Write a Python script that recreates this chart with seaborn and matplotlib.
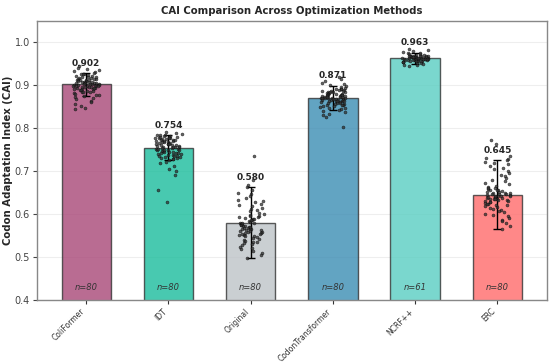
import numpy as np
import pandas as pd
import matplotlib
matplotlib.use("Agg")
import matplotlib.pyplot as plt
import seaborn as sns

methods = ["ColiFormer", "IDT", "Original", "CodonTransformer", "NCRF++", "ERC"]
means = [0.902, 0.754, 0.580, 0.871, 0.963, 0.645]
stds = [0.027, 0.029, 0.083, 0.028, 0.013, 0.080]
counts = [80, 80, 80, 80, 61, 80]
colors = ["#A84777", "#1ABC9C", "#BDC3C7", "#3B8DB3", "#59CEC2", "#FF6B6B"]

coliformer_cai = [
    0.945, 0.940, 0.938, 0.935, 0.932, 0.930, 0.928, 0.927, 0.925, 0.924,
    0.922, 0.921, 0.920, 0.918, 0.917, 0.916, 0.915, 0.914, 0.913, 0.912,
    0.911, 0.910, 0.909, 0.908, 0.907, 0.907, 0.906, 0.905, 0.905, 0.904,
    0.903, 0.903, 0.902, 0.902, 0.901, 0.900, 0.900, 0.899, 0.898, 0.898,
    0.897, 0.896, 0.895, 0.895, 0.894, 0.893, 0.892, 0.891, 0.890, 0.889,
    0.888, 0.887, 0.886, 0.885, 0.884, 0.883, 0.882, 0.880, 0.878, 0.876,
    0.874, 0.872, 0.870, 0.867, 0.864, 0.860, 0.856, 0.852, 0.848, 0.845,
    0.912, 0.908, 0.904, 0.901, 0.899, 0.915, 0.919, 0.926, 0.896, 0.893,
]
idt_cai = [
    0.628, 0.656, 0.690, 0.700, 0.705, 0.712, 0.718, 0.722,
    0.790, 0.788, 0.786, 0.785, 0.784, 0.783, 0.782, 0.781, 0.780, 0.779,
    0.778, 0.777, 0.776, 0.775, 0.774, 0.773, 0.772, 0.771, 0.770, 0.769,
    0.768, 0.767, 0.766, 0.765, 0.764, 0.763, 0.762, 0.761, 0.760, 0.759,
    0.758, 0.757, 0.756, 0.755, 0.754, 0.753, 0.752, 0.751, 0.750, 0.749,
    0.748, 0.747, 0.746, 0.745, 0.744, 0.743, 0.742, 0.741, 0.740, 0.739,
    0.738, 0.737, 0.736, 0.735, 0.734, 0.733, 0.732, 0.731, 0.730, 0.728,
    0.727, 0.726, 0.780, 0.776, 0.772, 0.768, 0.764, 0.760, 0.756, 0.752,
    0.748, 0.744,
]
original_cai = [
    0.735, 0.679, 0.668, 0.662, 0.655, 0.650, 0.646, 0.641, 0.637, 0.633,
    0.630, 0.627, 0.624, 0.621, 0.618, 0.615, 0.612, 0.609, 0.606, 0.603,
    0.601, 0.598, 0.596, 0.594, 0.592, 0.590, 0.588, 0.586, 0.584, 0.582,
    0.580, 0.579, 0.577, 0.576, 0.574, 0.573, 0.571, 0.570, 0.568, 0.567,
    0.566, 0.564, 0.563, 0.562, 0.560, 0.559, 0.558, 0.556, 0.555, 0.554,
    0.552, 0.551, 0.549, 0.548, 0.546, 0.544, 0.542, 0.540, 0.538, 0.536,
    0.534, 0.532, 0.530, 0.527, 0.524, 0.521, 0.518, 0.514, 0.510, 0.505,
    0.498, 0.575, 0.585, 0.595, 0.561, 0.569, 0.553, 0.578, 0.589, 0.565,
]
codontransformer_cai = [
    0.918, 0.914, 0.910, 0.906, 0.903, 0.900, 0.898, 0.896, 0.894, 0.892,
    0.891, 0.890, 0.889, 0.888, 0.887, 0.886, 0.885, 0.884, 0.883, 0.882,
    0.881, 0.880, 0.879, 0.878, 0.877, 0.876, 0.875, 0.875, 0.874, 0.873,
    0.873, 0.872, 0.871, 0.871, 0.870, 0.869, 0.869, 0.868, 0.867, 0.866,
    0.865, 0.865, 0.864, 0.863, 0.862, 0.861, 0.860, 0.859, 0.858, 0.857,
    0.856, 0.855, 0.854, 0.853, 0.852, 0.851, 0.850, 0.848, 0.846, 0.844,
    0.842, 0.840, 0.837, 0.834, 0.830, 0.825, 0.802, 0.876, 0.872, 0.868,
    0.879, 0.866, 0.883, 0.862, 0.874, 0.870, 0.887, 0.858, 0.877, 0.864,
]
ncrf_cai = [
    0.985, 0.982, 0.979, 0.977, 0.975, 0.974, 0.973, 0.972, 0.971, 0.970,
    0.969, 0.968, 0.968, 0.967, 0.967, 0.966, 0.966, 0.965, 0.965, 0.964,
    0.964, 0.963, 0.963, 0.962, 0.962, 0.961, 0.961, 0.960, 0.960, 0.959,
    0.959, 0.958, 0.958, 0.957, 0.957, 0.956, 0.955, 0.954, 0.953, 0.952,
    0.951, 0.950, 0.948, 0.946, 0.944, 0.963, 0.965, 0.961, 0.967, 0.959,
    0.964, 0.962, 0.966, 0.960, 0.968, 0.958, 0.963, 0.957, 0.969, 0.956,
    0.962,
]
erc_cai = [
    0.772, 0.762, 0.735, 0.731, 0.728, 0.725, 0.722, 0.719, 0.716, 0.712,
    0.708, 0.704, 0.700, 0.696, 0.692, 0.688, 0.684, 0.680, 0.676, 0.672,
    0.669, 0.666, 0.663, 0.660, 0.658, 0.656, 0.654, 0.652, 0.650, 0.649,
    0.648, 0.647, 0.646, 0.645, 0.644, 0.643, 0.642, 0.641, 0.640, 0.639,
    0.638, 0.637, 0.636, 0.635, 0.634, 0.633, 0.632, 0.631, 0.630, 0.628,
    0.626, 0.624, 0.622, 0.620, 0.618, 0.616, 0.614, 0.612, 0.610, 0.607,
    0.604, 0.601, 0.598, 0.595, 0.591, 0.587, 0.583, 0.578, 0.572, 0.566,
    0.651, 0.646, 0.641, 0.636, 0.655, 0.661, 0.628, 0.624, 0.639, 0.657,
]

point_lists = [coliformer_cai, idt_cai, original_cai,
               codontransformer_cai, ncrf_cai, erc_cai]

summary = pd.DataFrame({"method": methods, "cai": means})
points = pd.DataFrame({
    "method": np.repeat(methods, [len(p) for p in point_lists]),
    "cai": np.concatenate(point_lists),
})

sns.set_style("white")
plt.rcParams["font.family"] = ["DejaVu Sans"]

fig, ax = plt.subplots(figsize=(5.5, 3.64), dpi=100)
fig.subplots_adjust(left=0.067, right=0.994, bottom=0.176, top=0.943)

sns.barplot(data=summary, x="method", y="cai", order=methods,
            hue="method", palette=colors, legend=False, saturation=1,
            width=0.6, alpha=0.8, edgecolor="#333333", linewidth=1.0,
            errorbar=None, ax=ax, zorder=2)
x_pos = np.arange(len(methods))
ax.errorbar(x_pos, means, yerr=stds, fmt="none", ecolor="black",
            elinewidth=1.0, capsize=3, capthick=1.0, zorder=3)

sns.stripplot(data=points, x="method", y="cai", order=methods,
              color="#333333", size=2.2, jitter=0.16, alpha=0.75,
              edgecolor="black", linewidth=0.3, ax=ax, zorder=4)

for i, (m, s, n) in enumerate(zip(means, stds, counts)):
    ax.text(i, m + s + 0.012, f"{m:.3f}", ha="center", va="bottom",
            fontsize=6.5, fontweight="bold", zorder=5)
    ax.text(i, 0.43, f"n={n}", ha="center", va="center",
            fontsize=6, style="italic", color="#333333", zorder=5)

ax.set_xlim(-0.6, 5.6)
ax.set_ylim(0.4, 1.05)
ax.set_yticks([0.4, 0.5, 0.6, 0.7, 0.8, 0.9, 1.0])
ax.grid(axis="y", color="#eeeeee", linewidth=0.8)
ax.set_axisbelow(True)
for sp in ax.spines.values():
    sp.set_color("#888888")
    sp.set_linewidth(1.0)

ax.tick_params(axis="y", labelsize=7, colors="#444444", length=3, left=True, pad=2)
ax.tick_params(axis="x", labelsize=5.5, colors="#333333", length=3, bottom=True, pad=2)
plt.setp(ax.get_xticklabels(), rotation=45, ha="right")
ax.set_xlabel("")
ax.set_ylabel("Codon Adaptation Index (CAI)", fontsize=7.3, fontweight="bold",
              labelpad=1)
ax.set_title("CAI Comparison Across Optimization Methods",
             fontsize=7.3, fontweight="bold", pad=5)

fig.savefig("out.png", dpi=100)
